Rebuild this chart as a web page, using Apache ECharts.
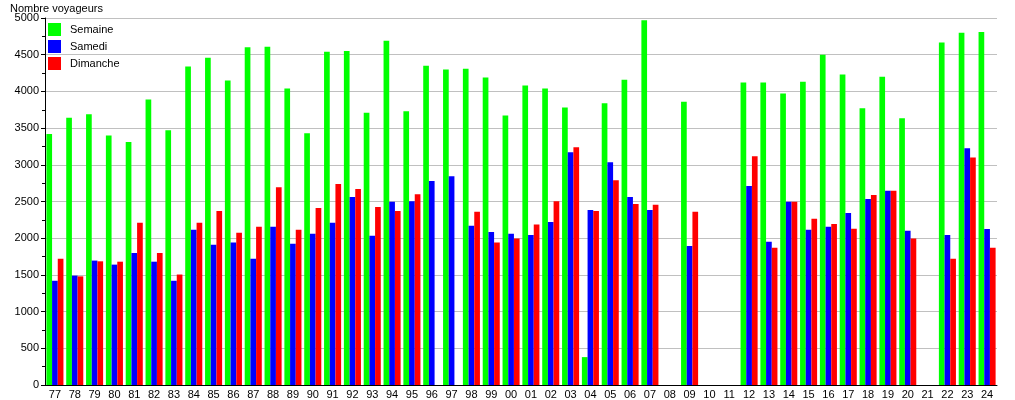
<!DOCTYPE html>
<html>
<head>
<meta charset="utf-8">
<script src="https://cdn.jsdelivr.net/npm/echarts@6/dist/echarts.min.js"></script>
<style>
html,body{margin:0;padding:0;background:#fff;}
#chart{width:1015px;height:400px;}
</style>
</head>
<body>
<div id="chart"></div>
<script>
const categories = ['77','78','79','80','81','82','83','84','85','86','87','88','89','90','91','92','93','94','95','96','97','98','99','00','01','02','03','04','05','06','07','08','09','10','11','12','13','14','15','16','17','18','19','20','21','22','23','24'];
const semaine = [3420,3640,3690,3400,3310,3890,3470,4340,4460,4150,4600,4610,4040,3430,4540,4550,3710,4690,3730,4350,4300,4310,4190,3670,4080,4040,3780,380,3840,4160,4970,null,3860,null,null,4120,4120,3970,4130,4500,4230,3770,4200,3635,null,4665,4800,4810];
const samedi = [1420,1490,1695,1640,1800,1680,1420,2115,1910,1940,1720,2155,1925,2060,2210,2560,2035,2495,2505,2780,2845,2170,2085,2060,2045,2220,3170,2385,3035,2560,2385,null,1895,null,null,2710,1950,2495,2115,2155,2345,2535,2645,2100,null,2045,3225,2125];
const dimanche = [1720,1480,1685,1680,2210,1800,1505,2210,2370,2075,2155,2695,2115,2410,2740,2670,2425,2370,2600,null,null,2360,1940,1995,2185,2505,3240,2370,2790,2465,2455,null,2360,null,null,3115,1870,2495,2265,2195,2130,2590,2645,1995,null,1720,3100,1870];
const yTicks = {min:0, max:5000, interval:500};

const chart = echarts.init(document.getElementById('chart'), null, {renderer:'canvas'});
const font = 'Liberation Sans, Arial, sans-serif';
chart.setOption({
  animation:false,
  backgroundColor:'#fff',
  title:{text:'Nombre voyageurs', left:10, top:3, padding:0, textStyle:{fontSize:11, fontWeight:'normal', color:'#000', fontFamily:font}},
  legend:{
    orient:'vertical', left:43, top:18, itemWidth:13, itemHeight:13, itemGap:4,
    icon:'rect',
    textStyle:{fontSize:11, color:'#000', fontFamily:font, padding:[0,0,0,4]},
    data:['Semaine','Samedi','Dimanche']
  },
  grid:{left:45, right:18, top:18, bottom:12, containLabel:false},
  xAxis:{
    type:'category', data:categories,
    axisLine:{show:true, lineStyle:{color:'#000', width:1}},
    axisTick:{show:false},
    axisLabel:{fontSize:11, color:'#000', fontFamily:font, margin:4, interval:0},
    splitLine:{show:false}
  },
  yAxis:{
    type:'value', min:yTicks.min, max:yTicks.max, interval:yTicks.interval,
    axisLine:{show:true, lineStyle:{color:'#000', width:1}},
    axisTick:{show:true, length:4, lineStyle:{color:'#000'}},
    minorTick:{show:true, splitNumber:2, length:3, lineStyle:{color:'#000'}},
    axisLabel:{fontSize:11, color:'#000', fontFamily:font, margin:6, formatter:function(v){return String(v);}},
    splitLine:{show:true, lineStyle:{color:'#c0c0c0', width:1}}
  },
  series:[
    {name:'Semaine', type:'bar', data:semaine, itemStyle:{color:'#00ff00'}, barGap:'0%', barCategoryGap:'14%'},
    {name:'Samedi', type:'bar', data:samedi, itemStyle:{color:'#0000ff'}, barGap:'0%', barCategoryGap:'14%'},
    {name:'Dimanche', type:'bar', data:dimanche, itemStyle:{color:'#ff0000'}, barGap:'0%', barCategoryGap:'14%'}
  ]
});
</script>
</body>
</html>
